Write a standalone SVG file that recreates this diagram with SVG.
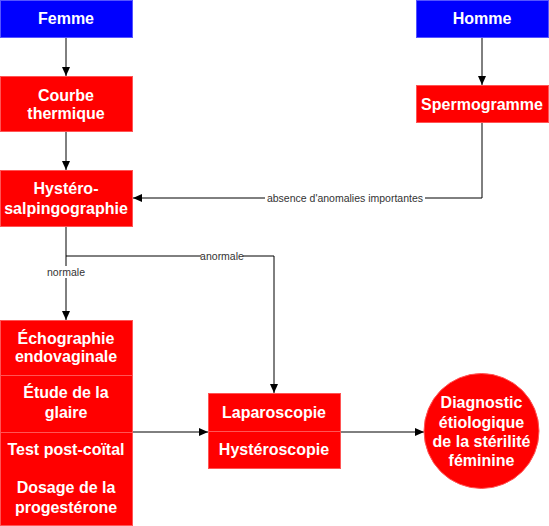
<svg xmlns="http://www.w3.org/2000/svg" width="549" height="526" viewBox="0 0 549 526">
<style>
.red{fill:#FF0000;stroke:#FF5555;stroke-width:1}
.blue{fill:#0000FF;stroke:#5555FF;stroke-width:1}
.t{font-family:"Liberation Sans",Arial,sans-serif;font-weight:bold;font-size:16px;fill:#FFFFFF;text-anchor:middle}
.c{fill:none;stroke:#000000;stroke-width:1}
.lbl{font-family:"Liberation Sans",Arial,sans-serif;font-size:10.5px;fill:#333333;text-anchor:middle}
</style>
<defs>
<marker id="ah" markerWidth="10" markerHeight="10" refX="9" refY="4" orient="auto" markerUnits="userSpaceOnUse">
<path d="M0,0 L9,4 L0,8 Z" fill="#000000"/>
</marker>
</defs>
<rect width="549" height="526" fill="#FFFFFF"/>
<g id="connectors">
<line class="c" x1="66" y1="37" x2="66" y2="76" marker-end="url(#ah)"/>
<line class="c" x1="66" y1="132" x2="66" y2="170" marker-end="url(#ah)"/>
<line class="c" x1="482" y1="37" x2="482" y2="85" marker-end="url(#ah)"/>
<polyline class="c" points="482,123 482,198 133,198" marker-end="url(#ah)"/>
<line class="c" x1="66" y1="227" x2="66" y2="320" marker-end="url(#ah)"/>
<polyline class="c" points="66,256 274,256 274,393" marker-end="url(#ah)"/>
<line class="c" x1="133" y1="432" x2="208" y2="432" marker-end="url(#ah)"/>
<line class="c" x1="341" y1="432" x2="424" y2="432" marker-end="url(#ah)"/>
<rect x="265" y="192" width="160" height="12" fill="#FFFFFF"/>
<text class="lbl" x="345" y="202">absence d'anomalies importantes</text>
<rect x="201" y="250" width="42" height="12" fill="#FFFFFF"/>
<text class="lbl" x="222" y="260">anormale</text>
<rect x="45" y="266" width="42" height="12" fill="#FFFFFF"/>
<text class="lbl" x="66" y="276">normale</text>
</g>
<g id="femme">
<rect class="blue" x="0.5" y="0.5" width="132" height="37"/>
<text class="t" x="66" y="24">Femme</text>
</g>
<g id="homme">
<rect class="blue" x="416.5" y="0.5" width="132" height="37"/>
<text class="t" x="482" y="24">Homme</text>
</g>
<g id="courbe">
<rect class="red" x="0.5" y="76.5" width="132" height="55"/>
<text class="t" x="66" y="101">Courbe</text>
<text class="t" x="66" y="119">thermique</text>
</g>
<g id="spermogramme">
<rect class="red" x="416.5" y="85.5" width="132" height="37"/>
<text class="t" x="482" y="110">Spermogramme</text>
</g>
<g id="hysterosalpingographie">
<rect class="red" x="0.5" y="170.5" width="132" height="56"/>
<text class="t" x="66" y="194">Hystéro-</text>
<text class="t" x="66" y="214">salpingographie</text>
</g>
<g id="examens">
<rect class="red" x="0.5" y="320.5" width="132" height="55"/>
<text class="t" x="66" y="344">Échographie</text>
<text class="t" x="66" y="362">endovaginale</text>
<rect class="red" x="0.5" y="375.5" width="132" height="57"/>
<text class="t" x="66" y="398">Étude de la</text>
<text class="t" x="66" y="418">glaire</text>
<rect x="0.5" y="432.5" width="132" height="93" fill="#FF0000" stroke="#FF5555"/>
<text class="t" x="66" y="455">Test post-coïtal</text>
<text class="t" x="66" y="493">Dosage de la</text>
<text class="t" x="66" y="513">progestérone</text>
</g>
<g id="laparoscopie">
<rect class="red" x="208.5" y="393.5" width="132" height="38"/>
<text class="t" x="274" y="418">Laparoscopie</text>
<rect class="red" x="208.5" y="431.5" width="132" height="37"/>
<text class="t" x="274" y="455">Hystéroscopie</text>
</g>
<g id="diagnostic">
<circle cx="481.5" cy="431" r="57.5" fill="#FF0000" stroke="#FF5555"/>
<text class="t" x="481.5" y="408">Diagnostic</text>
<text class="t" x="481.5" y="428">étiologique</text>
<text class="t" x="481.5" y="447">de la stérilité</text>
<text class="t" x="481.5" y="466">féminine</text>
</g>
</svg>
